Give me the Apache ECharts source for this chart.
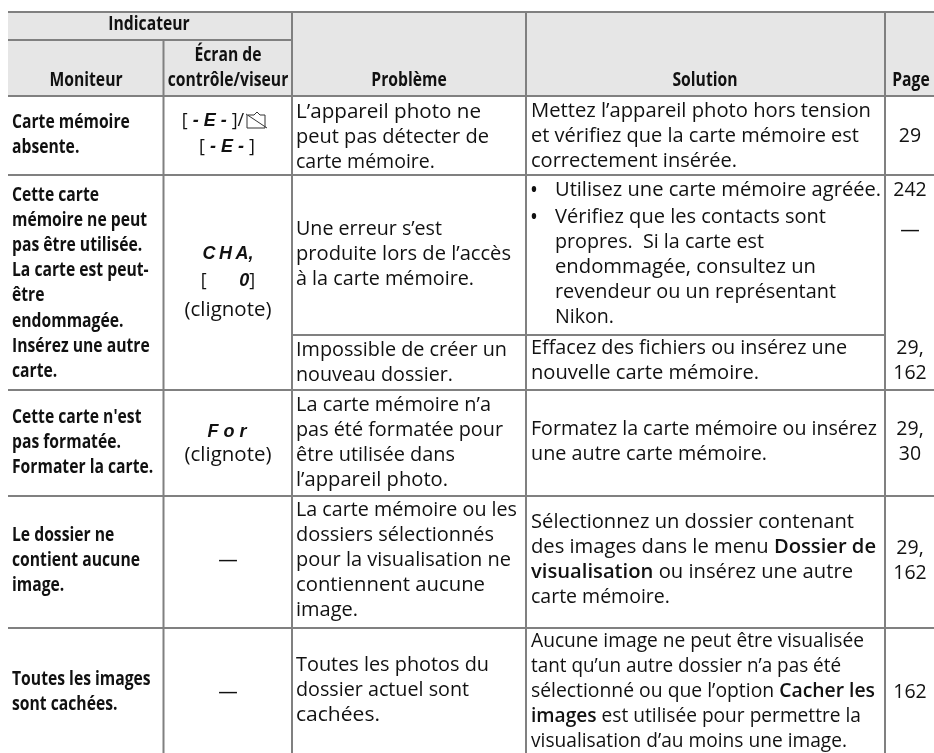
<!DOCTYPE html>
<html><head><meta charset="utf-8">
<style>html,body{margin:0;padding:0;background:#fff}#c{width:934px;height:753px}</style>
<script src="https://cdn.jsdelivr.net/npm/echarts@6/dist/echarts.min.js"></script>
</head><body><div id="c"></div>
<script>
// ---- table content ----
const headerTop = ["Indicateur"];
const headerCols = [["Moniteur"], ["Écran de", "contrôle/viseur"], ["Problème"], ["Solution"], ["Page"]];
const moniteur = [
  ["Carte mémoire", "absente."],
  ["Cette carte", "mémoire ne peut", "pas être utilisée.", "La carte est peut-", "être", "endommagée.", "Insérez une autre", "carte."],
  ["Cette carte n'est", "pas formatée.", "Formater la carte."],
  ["Le dossier ne", "contient aucune", "image."],
  ["Toutes les images", "sont cachées."]
];
const ecran = [
  [],
  ["(clignote)"],
  ["(clignote)"],
  ["—"],
  ["—"]
];
const lcdCodes = ["[** - E - **]/", "[** - E - **]", "**C\u2009H\u2009A,**", "[       **0**]", "**F o r**"];
const probleme = [
  ["L’appareil photo ne", "peut pas détecter de", "carte mémoire."],
  ["Une erreur s’est", "produite lors de l’accès", "à la carte mémoire."],
  ["Impossible de créer un", "nouveau dossier."],
  ["La carte mémoire n’a", "pas été formatée pour", "être utilisée dans", "l’appareil photo."],
  ["La carte mémoire ou les", "dossiers sélectionnés", "pour la visualisation ne", "contiennent aucune", "image."],
  ["Toutes les photos du", "dossier actuel sont", "cachées."]
];
const solution = [
  ["Mettez l’appareil photo hors tension", "et vérifiez que la carte mémoire est", "correctement insérée."],
  ["Effacez des fichiers ou insérez une", "nouvelle carte mémoire."],
  ["Formatez la carte mémoire ou insérez", "une autre carte mémoire."],
  ["Sélectionnez un dossier contenant", "des images dans le menu **Dossier de**", "**visualisation** ou insérez une autre", "carte mémoire."],
  ["Aucune image ne peut être visualisée", "tant qu’un autre dossier n’a pas été", "sélectionné ou que l’option **Cacher les**", "**images** est utilisée pour permettre la", "visualisation d’au moins une image."]
];
const puces = [["Utilisez une carte mémoire agréée."], ["Vérifiez que les contacts sont", "propres.  Si la carte est", "endommagée, consultez un", "revendeur ou un représentant", "Nikon."]];
const pages = [["29"], ["242"], ["—"], ["29,", "162"], ["29,", "30"], ["29,", "162"], ["162"]];

// ---- layout (page coordinates on hidden axes) ----
const W = 934, H = 753, PITCH = 25.2;
const X1 = 12, X3 = 296, X4 = 531, X4B = 555, XB = 531;
const CX2 = 228, CXP = 910;
const GREY = '#808080', TXT = '#111';
const rules = [
  [8, 12, 934, 12], [8, 40, 291, 40], [8, 96, 934, 96], [8, 175, 934, 175],
  [292, 335, 885, 335], [8, 390, 934, 390], [8, 496, 934, 496], [8, 628, 934, 628],
  [163.5, 40, 163.5, 753], [292, 11, 292, 753], [526, 11, 526, 753], [885, 11, 885, 753]
];
const iconRules = [[247, 115, 247, 128], [247, 128, 265, 128], [265, 128, 265, 115], [265, 115, 260, 115], [254, 115, 248, 115], [246, 114, 267, 128], [254, 115, 257, 112], [257, 112, 260, 115]];
const fills = [[8, 12, 934, 96]];
// right edge each line of running text reaches in the reference
const rightEdge = {
  "Mettez l’appareil photo hors tension": 871, "et vérifiez que la carte mémoire est": 859, "correctement insérée.": 737,
  "Utilisez une carte mémoire agréée.": 881, "Vérifiez que les contacts sont": 826, "propres.  Si la carte est": 764,
  "endommagée, consultez un": 816, "revendeur ou un représentant": 836, "Nikon.": 614,
  "Effacez des fichiers ou insérez une": 847, "nouvelle carte mémoire.": 759,
  "Formatez la carte mémoire ou insérez": 877, "une autre carte mémoire.": 767,
  "Sélectionnez un dossier contenant": 854, "des images dans le menu **Dossier de**": 876,
  "**visualisation** ou insérez une autre": 853,
  "Aucune image ne peut être visualisée": 864, "tant qu’un autre dossier n’a pas été": 841,
  "sélectionné ou que l’option **Cacher les**": 875, "**images** est utilisée pour permettre la": 861,
  "visualisation d’au moins une image.": 847,
  "L’appareil photo ne": 481, "peut pas détecter de": 489, "Une erreur s’est": 442,
  "produite lors de l’accès": 511, "à la carte mémoire.": 474, "Impossible de créer un": 507, "nouveau dossier.": 453,
  "La carte mémoire n’a": 491, "pas été formatée pour": 503, "être utilisée dans": 455, "l’appareil photo.": 448,
  "La carte mémoire ou les": 517, "dossiers sélectionnés": 494, "pour la visualisation ne": 511,
  "contiennent aucune": 485, "image.": 358, "Toutes les photos du": 489, "dossier actuel sont": 469, "cachées.": 380
};

const items = [];
function add(list, x, y, kind, align, pitch) {
  list.forEach((t, i) => items.push([t, x, y + i * (pitch || PITCH), kind, align]));
}
add(headerTop, 149, 24, 'b', 'center');
add(headerCols[0], 86, 80, 'b', 'center');
add(headerCols[1], CX2, 55, 'b', 'center');
add(headerCols[2], 409, 80, 'b', 'center');
add(headerCols[3], 705, 80, 'b', 'center');
add(headerCols[4], CXP + 1, 80, 'b', 'center');
[122, 195, 417, 535, 679].forEach((y, i) => add(moniteur[i], X1, y, 'b', 'left'));
add(ecran[1], CX2, 310, 'c', 'center');
add(ecran[2], CX2, 455, 'c', 'center');
add(ecran[3], CX2, 560, 'n', 'center');
add(ecran[4], CX2, 692, 'n', 'center');
[112, 229, 350, 405, 510, 665].forEach((y, i) => add(probleme[i], X3, y, 'n', 'left'));
[111, 348, 429, 522, 641].forEach((y, i) => add(solution[i], X4, y, 'n', 'left'));
add(puces[0], X4B, 190, 'n', 'left');
add(puces[1], X4B, 217, 'n', 'left');
add(['•'], XB, 190, 'b', 'left');
add(['•'], XB, 217, 'b', 'left');
[136, 190, 230, 348, 429, 548, 692].forEach((y, i) => add(pages[i], CXP, y, 'n', 'center'));
[[0, 213, 121], [1, 227, 147], [2, 228, 254], [3, 228, 281], [4, 227, 432]].forEach(([i, x, y]) => items.push([lcdCodes[i], x, y, 'l', 'center']));

const FONT = 'Open Sans';
const kinds = {
  n: {font: `400 19.5px "${FONT}"`, bold: `600 19.5px "${FONT}"`, sx: 1},
  c: {font: `400 19.5px "${FONT}"`, sx: 1.05},
  b: {font: `700 19.5px "${FONT}"`, sx: 0.805},
  l: {font: `400 18px "${FONT}"`, bold: `italic 700 18px "Liberation Sans"`, sx: 1}
};

const ctx = document.createElement('canvas').getContext('2d');
function measure(s, k) {
  let w = 0;
  s.split('**').forEach((t, i) => { ctx.font = i % 2 ? k.bold : k.font; w += ctx.measureText(t).width; });
  return w;
}
function textEl(api, it) {
  const p = api.coord([it[1], it[2]]);
  const k = kinds[it[3]];
  const style = {x: 0, y: 0, fill: TXT, font: k.font, align: it[4], verticalAlign: 'middle'};
  const s = it[0];
  if (s.indexOf('**') >= 0) {
    const parts = s.split('**');
    style.text = parts.map((t, i) => t ? `{${i % 2 ? 'b' : 'r'}|${t}}` : '').join('');
    style.rich = {r: {font: k.font, fill: TXT}, b: {font: k.bold, fill: TXT}};
  } else {
    style.text = s;
  }
  let sx = k.sx;
  if (it[3] === 'n' && it[4] === 'left' && rightEdge[s]) sx = (rightEdge[s] - it[1]) / measure(s, k);
  return {type: 'text', x: p[0], y: p[1], scaleX: sx, originX: 0, originY: 0, silent: true, style};
}

const ruleSeries = (data, color, width, z) => ({
  type: 'custom', coordinateSystem: 'cartesian2d', clip: false, silent: true, animation: false, z,
  encode: {x: [0, 2], y: [1, 3]}, data,
  renderItem: (params, api) => {
    const a = api.coord([api.value(0), api.value(1)]);
    const b = api.coord([api.value(2), api.value(3)]);
    return {type: 'line', shape: {x1: a[0], y1: a[1], x2: b[0], y2: b[1]}, style: {stroke: color, lineWidth: width, fill: null}};
  }
});

const chart = echarts.init(document.getElementById('c'), null, {renderer: 'canvas'});
chart.setOption({
  backgroundColor: '#fff', animation: false, tooltip: {show: false},
  grid: {left: 0, right: 0, top: 0, bottom: 0},
  xAxis: {type: 'value', min: 0, max: W, show: false},
  yAxis: {type: 'value', min: 0, max: H, inverse: true, show: false},
  series: [
    {type: 'custom', clip: false, silent: true, animation: false, z: 1, encode: {x: [0, 2], y: [1, 3]}, data: fills,
     renderItem: (params, api) => {
       const a = api.coord([api.value(0), api.value(1)]);
       const b = api.coord([api.value(2), api.value(3)]);
       return {type: 'rect', shape: {x: a[0], y: a[1], width: b[0] - a[0], height: b[1] - a[1]}, style: {fill: '#e6e6e6'}};
     }},
    ruleSeries(rules, GREY, 2, 2),
    ruleSeries(iconRules, '#333', 1, 3),
    {type: 'custom', clip: false, silent: true, animation: false, z: 4,
     encode: {x: 0, y: 1}, data: items.map((it, i) => [it[1], it[2], i]),
     renderItem: (params, api) => textEl(api, items[api.value(2)])}
  ]
});
</script></body></html>
